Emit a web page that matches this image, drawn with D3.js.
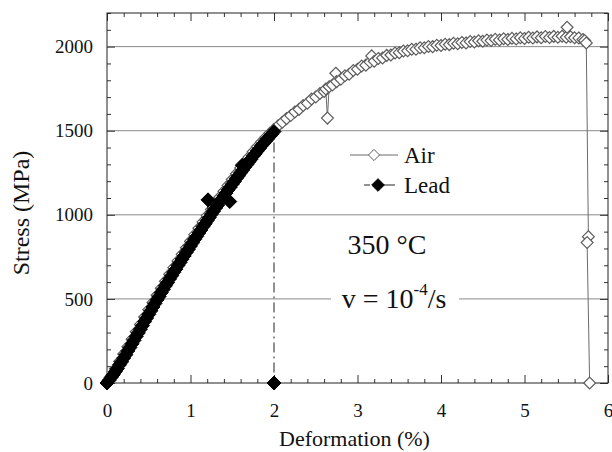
<!DOCTYPE html>
<html>
<head>
<meta charset="utf-8">
<script src="https://cdn.jsdelivr.net/npm/d3@7"></script>
<style>
body { margin: 0; background: #fff; }
svg { display: block; font-family: "Liberation Serif", "Times New Roman", serif; }
</style>
</head>
<body>
<div class="graphic"></div>
<script>
// strain (%) and stress (MPa)
var airStrain = [0, 0.05, 0.10, 0.15, 0.20, 0.25, 0.30, 0.35, 0.40, 0.45, 0.50, 0.55, 0.60, 0.65, 0.70, 0.75, 0.80, 0.85, 0.90, 0.95,
	1.00, 1.05, 1.10, 1.15, 1.20, 1.25, 1.30, 1.35, 1.40, 1.45, 1.50, 1.55, 1.60, 1.65, 1.70, 1.75, 1.80, 1.85, 1.90, 1.95,
	2.00, 2.05, 2.10, 2.15, 2.20, 2.25, 2.30, 2.35, 2.40, 2.45, 2.50, 2.55, 2.60, 2.62, 2.64, 2.66, 2.70, 2.74, 2.75, 2.80,
	2.85, 2.90, 2.95, 3.00, 3.05, 3.10, 3.15, 3.17, 3.20, 3.25, 3.30, 3.35, 3.40, 3.45, 3.50, 3.55, 3.60, 3.65, 3.70, 3.75,
	3.80, 3.85, 3.90, 3.95, 4.00, 4.05, 4.10, 4.15, 4.20, 4.25, 4.30, 4.35, 4.40, 4.45, 4.50, 4.55, 4.60, 4.65, 4.70, 4.75,
	4.80, 4.85, 4.90, 4.95, 5.00, 5.05, 5.10, 5.15, 5.20, 5.25, 5.30, 5.35, 5.40, 5.45, 5.50, 5.51, 5.55, 5.60, 5.65, 5.70,
	5.72, 5.74, 5.765, 5.75, 5.78];
var airStress = [0, 40, 85, 128, 172, 216, 260, 304, 348, 392, 436, 479, 522, 564, 605, 646, 686, 726, 765, 804,
	843, 882, 920, 958, 995, 1032, 1068, 1104, 1140, 1175, 1210, 1244, 1278, 1311, 1343, 1375, 1405, 1433, 1460, 1485,
	1508, 1530, 1550, 1572, 1590, 1612, 1627, 1650, 1663, 1688, 1700, 1722, 1733, 1748, 1575, 1762, 1772, 1842, 1792, 1806,
	1827, 1836, 1858, 1866, 1885, 1890, 1908, 1945, 1913, 1930, 1933, 1948, 1950, 1962, 1964, 1974, 1975, 1984, 1985, 1993,
	1993, 2001, 2000, 2008, 2007, 2014, 2012, 2020, 2017, 2025, 2022, 2030, 2027, 2035, 2032, 2039, 2036, 2044, 2040, 2047,
	2043, 2050, 2046, 2053, 2049, 2056, 2051, 2058, 2053, 2060, 2054, 2061, 2056, 2062, 2056, 2115, 2059, 2053, 2052, 2043,
	2036, 2022, 870, 835, 0];

var leadStrain = [0, 0.025, 0.05, 0.075, 0.10, 0.125, 0.15, 0.175, 0.20, 0.225, 0.25, 0.275, 0.30, 0.325, 0.35, 0.375, 0.40, 0.425, 0.45, 0.475,
	0.50, 0.525, 0.55, 0.575, 0.60, 0.625, 0.65, 0.675, 0.70, 0.725, 0.75, 0.775, 0.80, 0.825, 0.85, 0.875, 0.90, 0.925, 0.95, 0.975,
	1.00, 1.025, 1.05, 1.075, 1.10, 1.125, 1.15, 1.175, 1.20, 1.21, 1.225, 1.25, 1.275, 1.30, 1.325, 1.35, 1.375, 1.40, 1.425, 1.45,
	1.47, 1.475, 1.50, 1.525, 1.55, 1.575, 1.60, 1.62, 1.625, 1.65, 1.675, 1.70, 1.725, 1.75, 1.775, 1.80, 1.825, 1.85, 1.875, 1.90,
	1.925, 1.95, 1.975, 2.00, 2.00];
var leadStress = [0, 16, 33, 49, 68, 86, 108, 126, 148, 168, 191, 211, 233, 254, 277, 298, 320, 341, 365, 386,
	408, 429, 452, 473, 495, 515, 537, 557, 578, 597, 619, 638, 658, 677, 699, 717, 737, 756, 777, 795,
	815, 834, 854, 872, 892, 910, 930, 947, 966, 1089, 984, 1004, 1021, 1040, 1057, 1077, 1094, 1112, 1129, 1148,
	1079, 1164, 1182, 1198, 1217, 1232, 1250, 1295, 1266, 1284, 1299, 1316, 1331, 1349, 1363, 1380, 1394, 1411, 1424, 1440,
	1452, 1467, 1480, 1495, 0];

var xMajor = [0, 1, 2, 3, 4, 5, 6];
var xMinor = [0.2, 0.4, 0.6, 0.8, 1.2, 1.4, 1.6, 1.8, 2.2, 2.4, 2.6, 2.8, 3.2, 3.4, 3.6, 3.8, 4.2, 4.4, 4.6, 4.8, 5.2, 5.4, 5.6, 5.8];
var yMajor = [0, 500, 1000, 1500, 2000];
var yMinor = [100, 200, 300, 400, 600, 700, 800, 900, 1100, 1200, 1300, 1400, 1600, 1700, 1800, 1900, 2100, 2200];
var gridLevels = [500, 1000, 1500, 2000];
var seriesNames = ['Air', 'Lead'];

var width = 612;
var height = 452;
var plotL = 107, plotR = 608, plotT = 13, plotB = 383;

var svg = d3.select('.graphic').append('svg')
	.attr('width', width)
	.attr('height', height)
	.attr('viewBox', `0 0 ${width} ${height}`);

var x = d3.scaleLinear().domain([0, 6]).range([plotL, plotR]);
var y = d3.scaleLinear().domain([0, 2200]).range([plotB, plotT]);

// rotated-square marker
var diamond = {
	draw: function(ctx, size) {
		var r = Math.sqrt(size / 2);
		ctx.moveTo(0, -r);
		ctx.lineTo(r, 0);
		ctx.lineTo(0, r);
		ctx.lineTo(-r, 0);
		ctx.closePath();
	}
};
var airMarker = d3.symbol().type(diamond).size(70);
var leadMarker = d3.symbol().type(diamond).size(98);

// grid
svg.append('g').selectAll('line')
	.data(gridLevels)
	.enter()
	.append('line')
	.attr('x1', plotL)
	.attr('x2', plotR)
	.attr('y1', function(d) { return y(d); })
	.attr('y2', function(d) { return y(d); })
	.attr('stroke', '#8a8a8a')
	.attr('stroke-width', 1);

// axes with inward ticks on all four sides
function drawAxis(axisFn, scale, ticks, size, pos, labels) {
	var a = axisFn(scale).tickValues(ticks).tickSizeInner(-size).tickSizeOuter(0);
	a.tickFormat(labels ? d3.format('d') : '');
	var g = svg.append('g').attr('transform', pos).call(a);
	g.selectAll('line').attr('stroke', '#333');
	g.select('.domain').remove();
	g.selectAll('text')
		.attr('font-size', 19)
		.attr('font-family', 'Liberation Serif')
		.attr('fill', '#111');
	return g;
}

var gx = drawAxis(d3.axisBottom, x, xMajor, 8, `translate(0,${plotB})`, true);
drawAxis(d3.axisBottom, x, xMinor, 4, `translate(0,${plotB})`, false);
drawAxis(d3.axisTop, x, xMajor, 8, `translate(0,${plotT})`, false);
drawAxis(d3.axisTop, x, xMinor, 4, `translate(0,${plotT})`, false);

var gy = drawAxis(d3.axisLeft, y, yMajor, 8, `translate(${plotL},0)`, true);
drawAxis(d3.axisLeft, y, yMinor, 4, `translate(${plotL},0)`, false);
drawAxis(d3.axisRight, y, yMajor, 8, `translate(${plotR},0)`, false);
drawAxis(d3.axisRight, y, yMinor, 4, `translate(${plotR},0)`, false);

gx.selectAll('.tick text').attr('y', 21);
gy.selectAll('.tick text').attr('x', -14);

svg.append('rect')
	.attr('x', plotL)
	.attr('y', plotT)
	.attr('width', plotR - plotL)
	.attr('height', plotB - plotT)
	.attr('fill', 'none')
	.attr('stroke', '#222')
	.attr('stroke-width', 1);

var air = d3.range(airStrain.length).map(function(i) { return [airStrain[i], airStress[i]]; });
var lead = d3.range(leadStrain.length).map(function(i) { return [leadStrain[i], leadStress[i]]; });
var line = d3.line()
	.x(function(d) { return x(d[0]); })
	.y(function(d) { return y(d[1]); });

// Air series
svg.append('path')
	.datum(air)
	.attr('d', line)
	.attr('fill', 'none')
	.attr('stroke', '#6a6a6a')
	.attr('stroke-width', 1);

svg.append('g').selectAll('path')
	.data(air)
	.enter()
	.append('path')
	.attr('d', airMarker)
	.attr('transform', function(d) { return `translate(${x(d[0])},${y(d[1])})`; })
	.attr('fill', '#fff')
	.attr('stroke', '#5c5c5c')
	.attr('stroke-width', 1.2);

// Lead series
svg.append('path')
	.datum(lead)
	.attr('d', line)
	.attr('fill', 'none')
	.attr('stroke', '#222')
	.attr('stroke-width', 1)
	.attr('stroke-dasharray', '10,4,2,4');

svg.append('g').selectAll('path')
	.data(lead)
	.enter()
	.append('path')
	.attr('d', leadMarker)
	.attr('transform', function(d) { return `translate(${x(d[0])},${y(d[1])})`; })
	.attr('fill', '#000')
	.attr('stroke', '#000')
	.attr('stroke-width', 1);

// legend
var legend = svg.append('g');
var legendRows = [
	{ name: seriesNames[0], y: 155, x1: 350, x2: 398, mx: 374, sym: d3.symbol().type(diamond).size(62), fill: '#fff', stroke: '#5c5c5c', line: '#6a6a6a', dash: null },
	{ name: seriesNames[1], y: 185, x1: 364, x2: 398, mx: 378, sym: d3.symbol().type(diamond).size(80), fill: '#000', stroke: '#000', line: '#222', dash: '6,5,14,0' }
];
legendRows.forEach(function(r) {
	legend.append('line')
		.attr('x1', r.x1).attr('x2', r.x2)
		.attr('y1', r.y).attr('y2', r.y)
		.attr('stroke', r.line)
		.attr('stroke-width', 1)
		.attr('stroke-dasharray', r.dash);
	legend.append('path')
		.attr('d', r.sym())
		.attr('transform', `translate(${r.mx},${r.y})`)
		.attr('fill', r.fill)
		.attr('stroke', r.stroke);
	legend.append('text')
		.attr('x', 404)
		.attr('y', r.y)
		.attr('dy', '0.35em')
		.attr('font-size', 23)
		.attr('fill', '#111')
		.text(r.name);
});

// annotations
svg.append('text')
	.attr('x', 387)
	.attr('y', 244)
	.attr('dy', '0.35em')
	.attr('text-anchor', 'middle')
	.attr('font-size', 28)
	.attr('fill', '#111')
	.text('350 °C');

svg.append('rect')
	.attr('x', 331)
	.attr('y', 282)
	.attr('width', 128)
	.attr('height', 32)
	.attr('fill', '#fff');

var rate = svg.append('text')
	.attr('x', 394)
	.attr('y', 298)
	.attr('dy', '0.35em')
	.attr('text-anchor', 'middle')
	.attr('font-size', 28)
	.attr('fill', '#111');
rate.append('tspan').text('v = 10');
rate.append('tspan').attr('font-size', 17).attr('dy', '-0.75em').text('-4');
rate.append('tspan').attr('dy', '0.45em').text('/s');

// axis titles
svg.append('text')
	.attr('x', (plotL + plotR) / 2 - 3)
	.attr('y', 438)
	.attr('dy', '0.35em')
	.attr('text-anchor', 'middle')
	.attr('font-size', 22)
	.attr('fill', '#111')
	.text('Deformation (%)');

svg.append('text')
	.attr('transform', 'translate(21,213) rotate(-90)')
	.attr('dy', '0.35em')
	.attr('text-anchor', 'middle')
	.attr('font-size', 24)
	.attr('fill', '#111')
	.text('Stress (MPa)');
</script>
</body>
</html>
